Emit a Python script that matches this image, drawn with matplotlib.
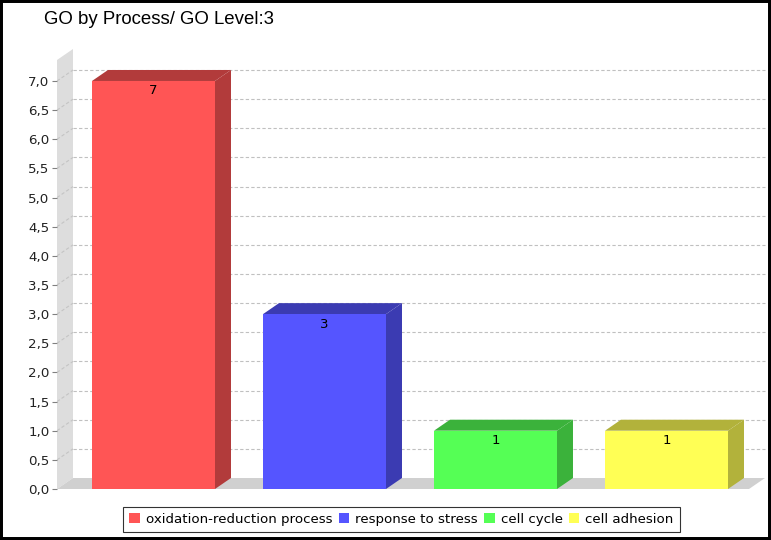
import matplotlib
matplotlib.use("Agg")
import matplotlib.pyplot as plt
from matplotlib.patches import Polygon, Patch, Rectangle
import numpy as np

# data
categories = ["oxidation-reduction process", "response to stress", "cell cycle", "cell adhesion"]
counts = [7, 3, 1, 1]
face_colors = ["#FF5555", "#5555FF", "#55FF55", "#FFFF55"]
side_colors = ["#B23B3B", "#3B3BB2", "#3BB23B", "#B2B23B"]
yticks = np.arange(0, 7.01, 0.5)

W, H = 771, 540
fig = plt.figure(figsize=(W / 100, H / 100), dpi=100)
fig.patch.set_facecolor("white")

# front plane of the plot, in pixels
left, right, bottom, top = 57, 749, 489, 60
ax = fig.add_axes([left / W, 1 - bottom / H, (right - left) / W, (bottom - top) / H])
ax.set_xlim(-0.5643, 3.4825)
ax.set_ylim(0, 7.36)
ax.patch.set_alpha(0)
for s in ax.spines.values():
    s.set_visible(False)

# 3D depth in data units (16 px right, 11 px up)
xspan = ax.get_xlim()[1] - ax.get_xlim()[0]
yspan = ax.get_ylim()[1] - ax.get_ylim()[0]
dx = 16 * xspan / (right - left)
dy = 11 * yspan / (bottom - top)
x0, x1 = ax.get_xlim()
ytop = ax.get_ylim()[1]

# left wall and floor
wall = Polygon([(x0, 0), (x0 + dx, dy), (x0 + dx, ytop + dy), (x0, ytop)],
               closed=True, fc="#DDDDDD", ec="none", clip_on=False, zorder=1)
ax.add_patch(wall)
floor = Polygon([(x0, 0), (x0 + dx, dy), (x1 + dx, dy), (x1, 0)],
                closed=True, fc="#D0D0D0", ec="none", clip_on=False, zorder=1)
ax.add_patch(floor)

# gridlines on back wall (and across the side wall)
for v in yticks[1:]:
    ax.plot([x0 + dx, x1 + dx], [v + dy, v + dy], color="#C0C0C0", lw=0.8,
            ls=(0, (3, 2)), clip_on=False, zorder=2)
    ax.plot([x0, x0 + dx], [v, v + dy], color="#C4C4C4", lw=0.8,
            ls=(0, (3, 2)), clip_on=False, zorder=2)

# bars
xpos = np.arange(len(categories))
bw = 123 * xspan / (right - left)
bars = ax.bar(xpos, counts, width=bw, color=face_colors, zorder=5)
for b, sc in zip(bars, side_colors):
    bx, by, bwid, bh = b.get_x(), b.get_y(), b.get_width(), b.get_height()
    side = Polygon([(bx + bwid, by), (bx + bwid + dx, by + dy),
                    (bx + bwid + dx, bh + dy), (bx + bwid, bh)],
                   closed=True, fc=sc, ec="none", clip_on=False, zorder=4)
    topf = Polygon([(bx, bh), (bx + dx, bh + dy), (bx + bwid + dx, bh + dy),
                    (bx + bwid, bh)],
                   closed=True, fc=sc, ec="none", clip_on=False, zorder=4)
    ax.add_patch(side)
    ax.add_patch(topf)

for xp, c in zip(xpos, counts):
    ax.annotate(str(c), (xp, c), xytext=(0, -2.5), textcoords="offset points",
                ha="center", va="top", fontsize=9.6, family="DejaVu Sans", zorder=6)

# axes ticks
ax.set_xticks([])
ax.set_yticks(yticks)
ax.set_yticklabels([("%.1f" % v).replace(".", ",") for v in yticks])
ax.tick_params(axis="y", length=3.5, width=0.8, color="#808080", pad=2,
               labelsize=9.6, labelcolor="#222222")

# title
fig.text(44 / W, 1 - 23.5 / H, "GO by Process/ GO Level:3", ha="left", va="baseline",
         fontsize=13.4, family="Liberation Sans")

# legend
handles = [Patch(fc=c, ec="none") for c in face_colors]
leg = fig.legend(handles, categories, loc="center", bbox_to_anchor=(401.5 / W, 1 - 519.5 / H),
                 ncol=4, fontsize=9.6, frameon=True, fancybox=False, handlelength=0.8,
                 handleheight=0.8, handletextpad=0.45, columnspacing=0.45, borderpad=0.45,
                 borderaxespad=0)
leg.get_frame().set_edgecolor("black")
leg.get_frame().set_linewidth(0.8)

# black outer border
fig.patches.append(Rectangle((0, 0), 1, 1, transform=fig.transFigure, fill=False,
                             ec="black", lw=4.3, zorder=10))

fig.savefig("out.png", dpi=100)
